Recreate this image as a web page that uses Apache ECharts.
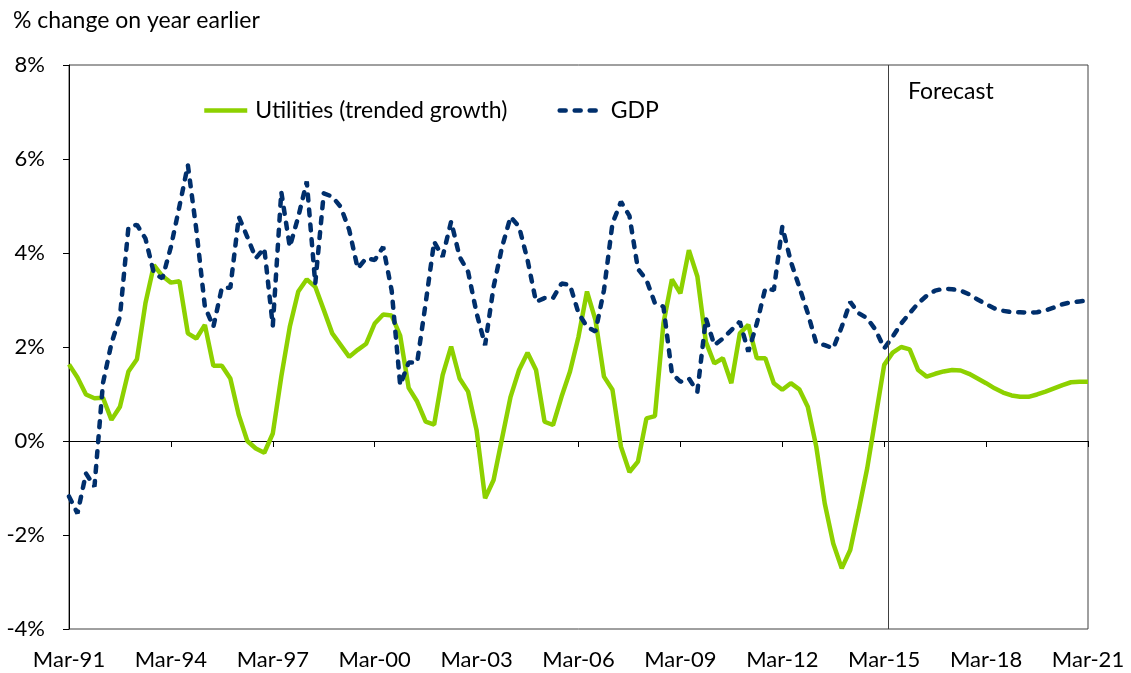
<!DOCTYPE html>
<html>
<head>
<meta charset="utf-8">
<script src="https://cdn.jsdelivr.net/npm/echarts@6/dist/echarts.min.js"></script>
<style>
    html, body { margin: 0; padding: 0; background: #fff; }
    #chart { width: 1131px; height: 673px; }
</style>
</head>
<body>
<div id="chart"></div>
<script>
// quarterly, Mar-91 .. Mar-21 (121 quarters), x = quarter index
var tickLabels = ['Mar-91', 'Mar-94', 'Mar-97', 'Mar-00', 'Mar-03', 'Mar-06',
    'Mar-09', 'Mar-12', 'Mar-15', 'Mar-18', 'Mar-21'];

var utilities = [
    1.63, 1.35, 0.99, 0.91, 0.92, 0.45, 0.73, 1.48, 1.74, 2.93, 3.74, 3.51,
    3.37, 3.40, 2.29, 2.18, 2.47, 1.60, 1.60, 1.33, 0.55, 0.00, -0.16, -0.25,
    0.16, 1.37, 2.43, 3.18, 3.44, 3.28, 2.79, 2.29, 2.04, 1.79, 1.94, 2.07,
    2.50, 2.69, 2.67, 2.24, 1.13, 0.84, 0.41, 0.35, 1.40, 2.01, 1.33, 1.05,
    0.23, -1.22, -0.83, 0.06, 0.94, 1.51, 1.88, 1.51, 0.41, 0.34, 0.94, 1.48,
    2.22, 3.18, 2.57, 1.37, 1.09, -0.12, -0.66, -0.44, 0.48, 0.53, 2.50, 3.44,
    3.14, 4.06, 3.50, 2.11, 1.65, 1.76, 1.23, 2.29, 2.47, 1.76, 1.76, 1.23,
    1.09, 1.23, 1.10, 0.73, -0.12, -1.33, -2.18, -2.71, -2.32, -1.47, -0.58, 0.52,
    1.62, 1.88, 2.00, 1.95, 1.51, 1.37, 1.43, 1.48, 1.51, 1.50, 1.43, 1.33,
    1.23, 1.12, 1.03, 0.97, 0.94, 0.94, 0.99, 1.05, 1.12, 1.19, 1.25, 1.26,
    1.26
];

var gdp = [
    -1.18, -1.54, -0.69, -0.97, 1.23, 2.08, 2.65, 4.55, 4.60, 4.31, 3.57, 3.46,
    4.13, 4.99, 5.87, 4.49, 2.86, 2.43, 3.26, 3.26, 4.77, 4.34, 3.89, 4.10,
    2.45, 5.30, 4.13, 4.77, 5.52, 3.35, 5.27, 5.20, 4.98, 4.49, 3.67, 3.89,
    3.85, 4.13, 3.20, 1.19, 1.67, 1.67, 2.93, 4.24, 3.92, 4.67, 3.92, 3.60,
    2.72, 2.04, 3.28, 4.13, 4.77, 4.56, 3.85, 2.96, 3.04, 3.04, 3.35, 3.32,
    2.72, 2.43, 2.33, 3.21, 4.63, 5.09, 4.79, 3.66, 3.43, 2.93, 2.86, 1.44,
    1.26, 1.33, 1.05, 2.61, 2.04, 2.18, 2.36, 2.54, 1.90, 2.50, 3.25, 3.21,
    4.56, 3.82, 3.28, 2.72, 2.08, 2.04, 1.97, 2.43, 2.96, 2.72, 2.61, 2.36,
    1.97, 2.22, 2.50, 2.72, 2.93, 3.09, 3.20, 3.24, 3.23, 3.20, 3.12, 3.01,
    2.91, 2.82, 2.77, 2.74, 2.74, 2.73, 2.74, 2.78, 2.84, 2.91, 2.95, 2.97,
    2.99
];

var forecastStart = 96.5;

function pairs(arr) {
    return arr.map(function (v, i) { return [i, v]; });
}

var font = 'Lato, "Open Sans", sans-serif';
var chart = echarts.init(document.getElementById('chart'), null, { renderer: 'canvas' });

var option = {
    animation: false,
    textStyle: { fontFamily: font, color: '#000' },
    grid: {
        left: 69, right: 43, top: 65, bottom: 44,
        show: true, borderColor: '#404040', borderWidth: 1
    },
    graphic: [
        {
            type: 'text', left: 13, top: 9,
            style: { text: '% change on year earlier', font: '23px ' + font, fill: '#000' }
        },
        {
            type: 'text', left: 908, top: 80,
            style: { text: 'Forecast', font: '23px ' + font, fill: '#000' }
        }
    ],
    legend: {
        left: 197, top: 94,
        itemWidth: 43, itemHeight: 16, itemGap: 50,
        itemStyle: { opacity: 0 },
        lineStyle: { width: 4.5 },
        textStyle: { fontSize: 23, fontFamily: font, color: '#000', padding: [0, 0, 0, 3] },
        data: ['Utilities (trended growth)', 'GDP']
    },
    xAxis: [
        {
            type: 'value', min: 0, max: 120, interval: 12, position: 'bottom',
            axisLine: { show: false, onZero: false },
            axisTick: { show: false },
            splitLine: { show: false },
            axisLabel: {
                margin: 20, fontSize: 22, color: '#000', fontFamily: font,
                formatter: function (v) { return tickLabels[v / 12]; }
            }
        },
        {
            type: 'value', min: 0, max: 120, interval: 12, position: 'top',
            axisLine: { show: true, onZero: true, lineStyle: { color: '#000', width: 1 } },
            axisTick: { show: true, inside: true, length: 6, lineStyle: { color: '#000' } },
            axisLabel: { show: false },
            splitLine: { show: false }
        }
    ],
    yAxis: {
        type: 'value', min: -4, max: 8, interval: 2,
        axisLine: { show: true, lineStyle: { color: '#000', width: 1 } },
        axisTick: { show: true, length: 6, lineStyle: { color: '#000' } },
        splitLine: { show: false },
        axisLabel: { margin: 24, fontSize: 22, color: '#000', fontFamily: font, formatter: '{value}%' }
    },
    series: [
        {
            name: 'Utilities (trended growth)',
            type: 'line',
            xAxisIndex: 0,
            data: pairs(utilities),
            symbol: 'none',
            lineStyle: { color: '#8DD100', width: 4.5 },
            itemStyle: { color: '#8DD100' },
            markLine: {
                silent: true,
                symbol: 'none',
                label: { show: false },
                lineStyle: { color: '#404040', width: 1, type: 'solid' },
                data: [{ xAxis: forecastStart }]
            }
        },
        {
            name: 'GDP',
            type: 'line',
            xAxisIndex: 0,
            data: pairs(gdp),
            symbol: 'none',
            lineStyle: { color: '#002F6C', width: 4.5, type: [6, 9], cap: 'round' },
            itemStyle: { color: '#002F6C' }
        }
    ]
};

chart.setOption(option);
</script>
</body>
</html>
